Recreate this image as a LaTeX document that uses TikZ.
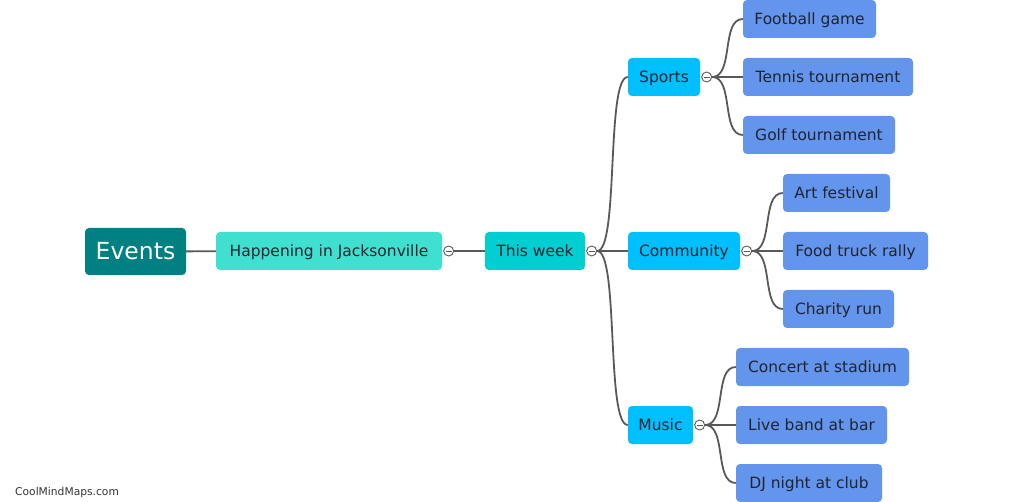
\documentclass[tikz,border=0pt]{standalone}
\usepackage{fontspec}
\setmainfont{DejaVu Sans}
\usepackage{xcolor}
\usetikzlibrary{positioning}
\definecolor{rootteal}{HTML}{008080}
\definecolor{turq}{HTML}{40E0D0}
\definecolor{darkturq}{HTML}{00CED1}
\definecolor{skyblue}{HTML}{00BFFF}
\definecolor{cornflower}{HTML}{6495ED}
\definecolor{ink}{HTML}{1F2430}
\definecolor{linkgray}{HTML}{595959}
\definecolor{markgray}{HTML}{333333}

\begin{document}
\begin{tikzpicture}[x=1pt, y=-1pt,
    box/.style={rectangle, rounded corners=4pt, minimum height=38pt, inner xsep=10pt, text height=11.5pt, text depth=0.5pt, text=ink, font=\fontsize{15.5}{18}\selectfont},
    rootbox/.style={box, fill=rootteal, text=white, minimum height=47pt, text height=17pt, text depth=1pt, font=\fontsize{23.5}{28}\selectfont},
    catbox/.style={box, fill=skyblue},
    leafbox/.style={box, fill=cornflower},
    link/.style={draw=linkgray, line width=1.8pt},
    toggle/.style={circle, draw=linkgray, fill=white, line width=0.9pt, minimum size=10pt, inner sep=0pt,
        path picture={\draw[linkgray, line width=0.9pt] ([xshift=-3pt]path picture bounding box.center) -- ([xshift=3pt]path picture bounding box.center);}}
]
    \useasboundingbox (0,0) rectangle (1025,502);

    \node[rootbox, minimum width=101pt] (events) at (135.5,251.5) {Events};
    \node[box, fill=turq, minimum width=226pt] (happen) at (329,251) {Happening in Jacksonville};
    \node[box, fill=darkturq, minimum width=100pt] (week) at (535,251) {This week};

    \node[catbox, minimum width=72pt] (sports) at (664,77) {Sports};
    \node[catbox, minimum width=112pt] (community) at (684,251) {Community};
    \node[catbox, minimum width=65pt] (music) at (660.5,425) {Music};

    \node[leafbox, minimum width=133pt] (football) at (809.5,19) {Football game};
    \node[leafbox, minimum width=170pt] (tennis) at (828,77) {Tennis tournament};
    \node[leafbox, minimum width=152pt] (golf) at (819,135) {Golf tournament};
    \node[leafbox, minimum width=107pt] (art) at (836.5,193) {Art festival};
    \node[leafbox, minimum width=145pt] (food) at (855.5,251) {Food truck rally};
    \node[leafbox, minimum width=111pt] (charity) at (838.5,309) {Charity run};
    \node[leafbox, minimum width=173pt] (concert) at (822.5,367) {Concert at stadium};
    \node[leafbox, minimum width=151pt] (liveband) at (811.5,425) {Live band at bar};
    \node[leafbox, minimum width=146pt] (djnight) at (809,483) {DJ night at club};

    % collapse buttons
    \node[toggle, right=1pt of happen] (happenT) {};
    \node[toggle, right=1pt of week] (weekT) {};
    \node[toggle, right=1pt of sports] (sportsT) {};
    \node[toggle, right=1pt of community] (communityT) {};
    \node[toggle, right=1pt of music] (musicT) {};

    \draw[link] (events) -- (happen);
    \draw[link] (happenT) -- (week);
    \foreach \c in {sports,community,music}
        \draw[link] (weekT.east) .. controls +(22,0) and +(-22,0) .. (\c.west);
    \foreach \c in {football,tennis,golf}
        \draw[link] (sportsT.east) .. controls +(22,0) and +(-22,0) .. (\c.west);
    \foreach \c in {art,food,charity}
        \draw[link] (communityT.east) .. controls +(22,0) and +(-22,0) .. (\c.west);
    \foreach \c in {concert,liveband,djnight}
        \draw[link] (musicT.east) .. controls +(22,0) and +(-22,0) .. (\c.west);

    \node[anchor=west, inner sep=0pt, text=markgray, font=\fontsize{10.7}{13}\selectfont] (mark) at (15,493) {CoolMindMaps.com};
\end{tikzpicture}
\end{document}
